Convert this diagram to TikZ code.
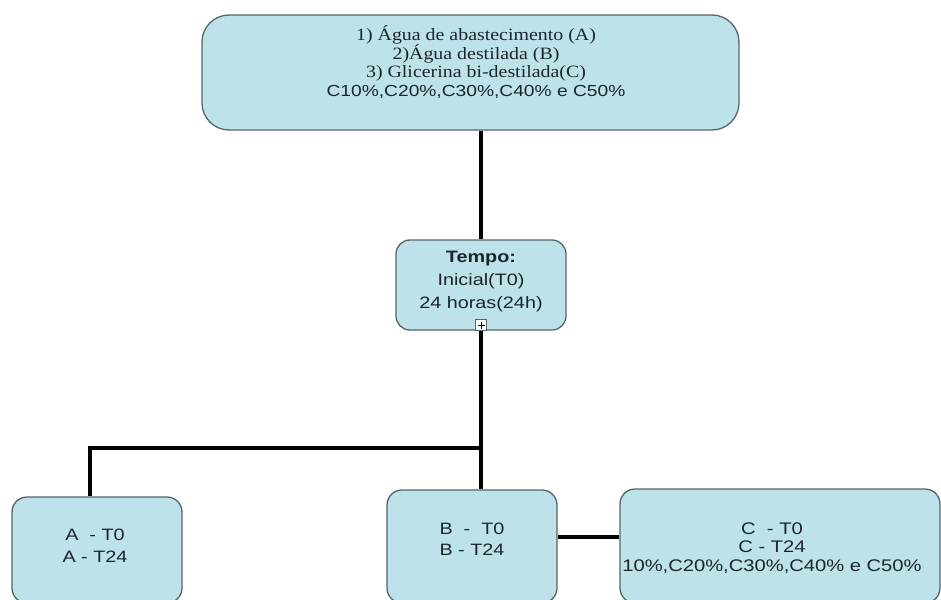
\documentclass[tikz,border=0pt]{standalone}
\usepackage{fontspec}
\setmainfont{Liberation Serif}[FakeStretch=1.15]
\newfontfamily\dsans{Liberation Sans}[FakeStretch=1.2]
\definecolor{boxfill}{HTML}{BEE2E9}
\definecolor{boxline}{HTML}{55656A}
\definecolor{ink}{HTML}{1B262C}
\tikzset{
  box/.style={draw=boxline, line width=1.3pt, fill=boxfill, inner sep=0pt},
  conn/.style={line width=3.8pt, black},
  txt/.style={text=ink, align=center, inner sep=0pt},
  plusbox/.style={draw=boxline, fill=white, line width=0.8pt, minimum size=11pt, inner sep=0pt,
    path picture={\draw[line width=0.8pt, black]
      ([xshift=-3.5pt]path picture bounding box.center) -- ([xshift=3.5pt]path picture bounding box.center)
      ([yshift=-3.5pt]path picture bounding box.center) -- ([yshift=3.5pt]path picture bounding box.center);}}
}
\begin{document}
\begin{tikzpicture}[x=1pt,y=-1pt]
\useasboundingbox (0,0) rectangle (941,599);
\clip (0,0) rectangle (941,599);
% boxes
\node[box, rounded corners=27pt, minimum width=537pt, minimum height=115pt] (top) at (470.5,72.5) {};
\node[box, rounded corners=14pt, minimum width=170pt, minimum height=90pt] (mid) at (481,285) {};
\node[box, rounded corners=15pt, minimum width=170pt, minimum height=106pt] (A) at (97,550) {};
\node[box, rounded corners=15pt, minimum width=170pt, minimum height=113pt] (B) at (472,546.5) {};
\node[box, rounded corners=15pt, minimum width=320pt, minimum height=114pt] (C) at (780,546) {};
\node[plusbox] (plus) at (481,325) {};
% connectors
\coordinate (j) at (481,448);
\coordinate (bc) at (600,537);
\draw[conn] (top.south -| mid.north) -- (mid.north);
\draw[conn] (plus.south) -- (plus.south |- B.north);
\draw[conn] (j) -| ([xshift=-7pt]A.north);
\draw[conn] (B.east |- bc) -- (C.west |- bc);
% texts (anchor=base is the baseline of the last line)
\node[txt, anchor=base, font=\fontsize{17.3}{18}\selectfont] (t1) at (476,97)
  {1) Água de abastecimento (A)\\2)Água destilada (B)\\3) Glicerina bi-destilada(C)\\[1pt]{\dsans\fontsize{16}{18}\selectfont C10\%,C20\%,C30\%,C40\% e C50\%}};
\node[txt, anchor=base, font=\dsans\fontsize{16.5}{23}\selectfont] (t2) at (481,308)
  {\textbf{Tempo:}\\Inicial(T0)\\24 horas(24h)};
\node[txt, anchor=base, font=\dsans\fontsize{16.5}{22}\selectfont] (tA) at (95,562)
  {A\ \ - T0\\A - T24};
\node[txt, anchor=base, font=\dsans\fontsize{16.5}{21}\selectfont] (tB) at (472,555)
  {B\ \ -\ \ T0\\B - T24};
\node[txt, anchor=base, font=\dsans\fontsize{16.8}{18.5}\selectfont] (tC) at (772,571)
  {C\ \ - T0\\C - T24\\10\%,C20\%,C30\%,C40\% e C50\%};
\end{tikzpicture}
\end{document}
